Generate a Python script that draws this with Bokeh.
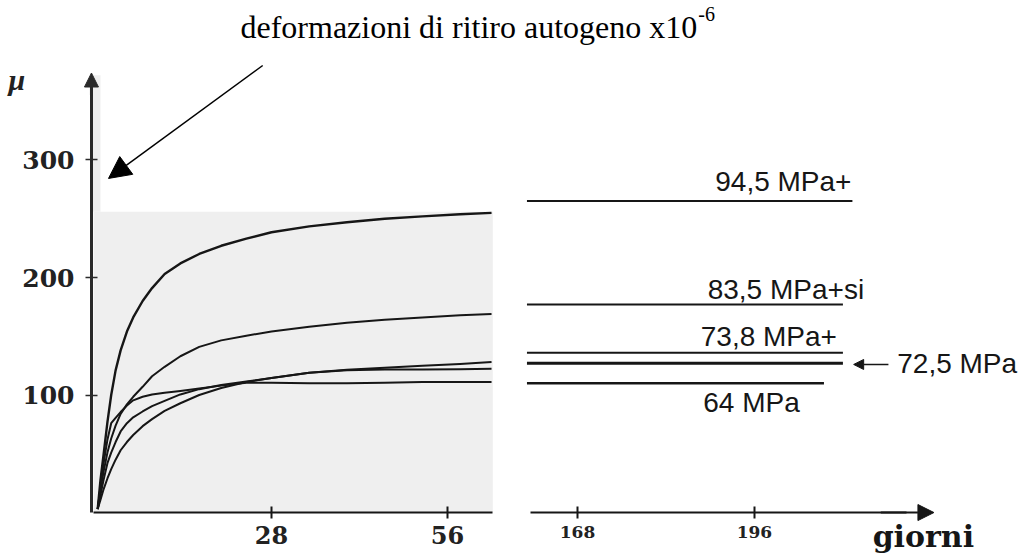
from bokeh.plotting import figure
from bokeh.models import (Range1d, LinearAxis, FixedTicker, Arrow, NormalHead,
                          Label, ColumnDataSource)
from bokeh.embed import file_html
from bokeh.resources import INLINE
from bokeh.core.properties import value

# ---------------- data ----------------
days = [0.35, 0.8, 1.3, 1.9, 2.5, 3.2, 4, 5, 6, 7.5, 9, 11, 13.5, 16.5,
        20, 24, 28, 34, 40, 46, 52, 58, 63]

mpa_945 = [3, 28, 50, 77, 100, 121, 138, 154, 166, 180, 191, 203, 212, 220,
           227, 233, 238.5, 243.5, 247, 250, 252, 253.8, 255]
mpa_835 = [3, 20, 35, 51, 63, 74, 84, 92, 98.5, 107, 116, 124, 133, 141,
           146.5, 150.5, 154, 158, 161.5, 164, 166, 167.8, 169]
mpa_738 = [3, 15, 28, 42, 51, 60, 69, 76, 81, 86, 90.5, 95, 100.5, 105,
           108.5, 111.5, 114.5, 119, 121.5, 123.3, 125, 126.5, 128]
mpa_725 = [3, 11, 20, 29, 37, 45, 53, 60, 66, 73.5, 79.5, 86.5, 93, 100,
           106, 111, 114.5, 119, 121, 121.8, 121.8, 122, 122.3]
mpa_64 = [3, 22, 42, 62, 76, 80.5, 85.5, 91, 95.5, 98.5, 100.5, 102, 103.5,
          105.5, 108, 110.5, 110.5, 110, 110, 110.5, 111, 111, 111]

early_series = [mpa_945, mpa_835, mpa_738, mpa_725, mpa_64]

late_labels = ["94,5 MPa+", "83,5 MPa+si", "73,8 MPa+", "72,5 MPa", "64 MPa"]
late_start = [160, 160, 160, 160, 160]
late_end = [211.5, 210, 210, 210, 207]
late_values = [265, 177, 136, 127, 110]

early_ticks = [28, 56]
late_ticks = [168, 196]
y_ticks = [100, 200, 300]

title_text = "deformazioni di ritiro autogeno x10"
title_exp = "-6"
y_label = "μ"
x_label = "giorni"

# ---------------- figure: the frame covers the whole canvas ----------------
p = figure(width=1026, height=556, output_backend="svg", toolbar_location=None,
           x_range=Range1d(-15.11, 148.1), y_range=Range1d(-37.4, 435.7),
           x_axis_location=None, y_axis_location=None,
           min_border_left=0, min_border_right=0, min_border_top=0,
           min_border_bottom=0)
p.extra_x_ranges = {"late": Range1d(76.69, 239.05)}
p.outline_line_color = None
p.grid.grid_line_color = None
p.background_fill_color = "white"
p.border_fill_color = "white"

INK = "#161616"
AXIS_X0 = -0.64

# light grey scanned background of the early panel
p.quad(left=-0.3, right=63.2, bottom=0, top=256, fill_color="#efefef",
       line_color=None)
p.quad(left=AXIS_X0, right=0.8, bottom=256, top=372, fill_color="#efefef",
       line_color=None)

# y axis
yax = LinearAxis(ticker=FixedTicker(ticks=y_ticks), bounds=(0, 362),
                 fixed_location=AXIS_X0)
yax.axis_line_width = 3
yax.axis_line_color = "#2a2a2a"
yax.major_tick_in = 6
yax.major_tick_out = 6
yax.major_tick_line_width = 1.5
yax.major_tick_line_color = "#2a2a2a"
yax.minor_tick_line_color = None
yax.major_label_text_font = "DejaVu Serif"
yax.major_label_text_font_style = "bold"
yax.major_label_text_font_size = "25px"
yax.major_label_text_color = "#222222"
yax.major_label_standoff = 11
p.add_layout(yax, "left")

# x axes (broken): early days and late days
ax1 = LinearAxis(ticker=FixedTicker(ticks=early_ticks), bounds=(-0.3, 63.1),
                 fixed_location=0)
ax2 = LinearAxis(x_range_name="late", ticker=FixedTicker(ticks=late_ticks),
                 bounds=(160.6, 220), fixed_location=0)
for ax, fs in ((ax1, "24px"), (ax2, "17px")):
    ax.axis_line_width = 2
    ax.axis_line_color = INK
    ax.major_tick_in = 6
    ax.major_tick_out = 6
    ax.major_tick_line_width = 2
    ax.major_tick_line_color = INK
    ax.minor_tick_line_color = None
    ax.major_label_text_font = "DejaVu Serif"
    ax.major_label_text_font_style = "bold"
    ax.major_label_text_font_size = fs
    ax.major_label_text_color = "#222222"
    ax.major_label_standoff = 7
    p.add_layout(ax, "below")

# axis arrow heads
p.add_layout(Arrow(x_start=AXIS_X0, y_start=355, x_end=AXIS_X0, y_end=374,
                   line_width=3, line_color="#2a2a2a",
                   end=NormalHead(size=14, fill_color="#2a2a2a",
                                  line_color="#2a2a2a")))
p.add_layout(Arrow(x_start=216, y_start=0, x_end=224.4, y_end=0,
                   x_range_name="late", line_width=2, line_color=INK,
                   end=NormalHead(size=16, fill_color=INK, line_color=INK)))

# early curves
widths = [2.4, 2, 2, 2, 2]
for vals, w in zip(early_series, widths):
    p.line(days, vals, line_color=INK, line_width=w, line_join="round")

# late horizontal levels
late_src = ColumnDataSource(dict(x0=late_start, x1=late_end, y=late_values,
                                 w=[2, 2, 2, 3, 2.5]))
p.segment(x0="x0", y0="y", x1="x1", y1="y", source=late_src,
          x_range_name="late", line_color=INK, line_width="w")

label_x = [189.8, 188.6, 187.5, 218.6, 187.9]
label_dy = [16.5, 12.6, 13.6, 0.2, -16.1]
label_y = [v + d for v, d in zip(late_values, label_dy)]
p.text(x=label_x, y=label_y, text=late_labels, x_range_name="late",
       text_font=value("Liberation Sans"), text_font_size="28px",
       text_color=INK, text_baseline="alphabetic", text_align="left")

# arrow to the 72,5 MPa line
p.add_layout(Arrow(x_start=217.2, y_start=126, x_end=211.7, y_end=126,
                   x_range_name="late", line_width=1.5, line_color=INK,
                   end=NormalHead(size=10, fill_color=INK, line_color=INK)))

# title text with arrow
p.add_layout(Label(x=23.07, y=413.4, text=title_text,
                   text_font="Liberation Serif", text_font_size="32px",
                   text_color="black", text_baseline="alphabetic"))
p.add_layout(Label(x=95.9, y=424.5, text=title_exp,
                   text_font="Liberation Serif", text_font_size="20px",
                   text_color="black", text_baseline="alphabetic"))
p.add_layout(Arrow(x_start=26.6, y_start=380.4, x_end=2.07, y_end=284.3,
                   line_width=1.5, line_color="black",
                   end=NormalHead(size=22, fill_color="black",
                                  line_color="black")))

# axis names
p.add_layout(Label(x=-13.84, y=368.5, text=y_label,
                   text_font="Liberation Serif", text_font_style="bold italic",
                   text_font_size="30px", text_color="#222222",
                   text_baseline="alphabetic"))
p.add_layout(Label(x=214.7, y=-20.0, x_range_name="late", text=x_label,
                   text_font="DejaVu Serif", text_font_style="bold",
                   text_font_size="30px", text_color=INK,
                   text_baseline="alphabetic"))

open("out.html", "w").write(file_html(p, INLINE))
